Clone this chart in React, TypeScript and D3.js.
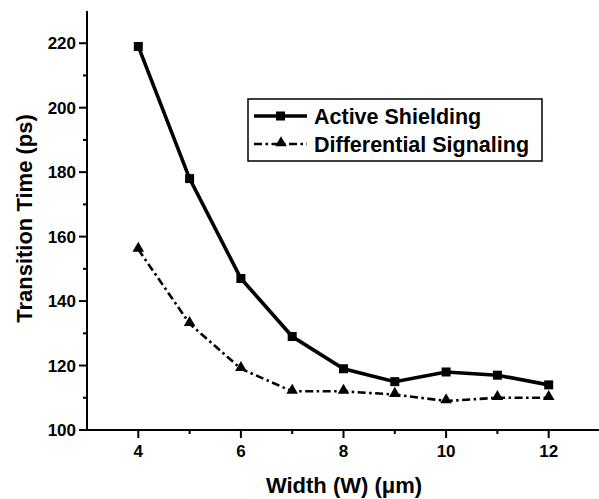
import React from "react";
import * as d3 from "d3";

const widths = [4, 5, 6, 7, 8, 9, 10, 11, 12];
const activeShielding = [219, 178, 147, 129, 119, 115, 118, 117, 114];
const differentialSignaling = [156, 133, 119, 112, 112, 111, 109, 110, 110];
const xMajorTicks = [4, 6, 8, 10, 12];
const xMinorTicks = [5, 7, 9, 11];
const yMajorTicks = [100, 120, 140, 160, 180, 200, 220];
const yMinorTicks = [110, 130, 150, 170, 190, 210];

const W = 599;
const H = 499;
const FONT = "'Liberation Sans', Arial, sans-serif";

export default function App() {
  const x = d3.scaleLinear().domain([3, 13]).range([87, 600]);
  const y = d3.scaleLinear().domain([100, 230]).range([430, 11]);
  const line = d3
    .line<number>()
    .x((_, i) => x(widths[i]))
    .y((d) => y(d));
  const tri = d3.symbol().type(d3.symbolTriangle).size(58)();

  return (
    <svg
      width={W}
      height={H}
      style={{ position: "absolute", left: 0, top: 0, background: "#fff" }}
      fontFamily={FONT}
    >
      <rect width={W} height={H} fill="#fff" />
      {/* axes */}
      <line x1={x(3)} x2={x(3)} y1={y(230)} y2={y(100)} stroke="#000" strokeWidth={2} />
      <line x1={x(3) - 1} x2={x(13)} y1={y(100)} y2={y(100)} stroke="#000" strokeWidth={2} />
      {yMajorTicks.map((t) => (
        <g key={"ym" + t}>
          <line x1={x(3) - 8} x2={x(3)} y1={y(t)} y2={y(t)} stroke="#000" strokeWidth={2} />
          <text
            x={x(3) - 11}
            y={y(t) + 6}
            textAnchor="end"
            fontSize={17}
            fontWeight="bold"
          >
            {t}
          </text>
        </g>
      ))}
      {yMinorTicks.map((t) => (
        <line key={"yn" + t} x1={x(3) - 4} x2={x(3)} y1={y(t)} y2={y(t)} stroke="#000" strokeWidth={2} />
      ))}
      {xMajorTicks.map((t) => (
        <g key={"xm" + t}>
          <line x1={x(t)} x2={x(t)} y1={y(100)} y2={y(100) + 8} stroke="#000" strokeWidth={2} />
          <text x={x(t)} y={y(100) + 27} textAnchor="middle" fontSize={17} fontWeight="bold">
            {t}
          </text>
        </g>
      ))}
      {xMinorTicks.map((t) => (
        <line key={"xn" + t} x1={x(t)} x2={x(t)} y1={y(100)} y2={y(100) + 4} stroke="#000" strokeWidth={2} />
      ))}
      {/* axis titles */}
      <text x={344} y={493} textAnchor="middle" fontSize={22} fontWeight="bold">
        Width (W) (μm)
      </text>
      <text
        transform={`translate(32,${(y(100) + y(230)) / 2 - 2}) rotate(-90)`}
        textAnchor="middle"
        fontSize={22}
        fontWeight="bold"
      >
        Transition Time (ps)
      </text>
      {/* series */}
      <path d={line(activeShielding) || ""} fill="none" stroke="#000" strokeWidth={3.6} />
      <path
        d={line(differentialSignaling) || ""}
        fill="none"
        stroke="#000"
        strokeWidth={2.6}
        strokeDasharray="8 3.5 2.5 3.5"
      />
      {activeShielding.map((v, i) => (
        <rect key={"s" + i} x={x(widths[i]) - 4.5} y={y(v) - 4.5} width={9} height={9} fill="#000" />
      ))}
      {differentialSignaling.map((v, i) => (
        <path key={"t" + i} d={tri || ""} transform={`translate(${x(widths[i])},${y(v) - 1})`} fill="#000" />
      ))}
      {/* legend */}
      <rect x={248} y={99} width={294} height={62} fill="#fff" stroke="#000" strokeWidth={1.5} />
      <line x1={254} x2={307} y1={116} y2={116} stroke="#000" strokeWidth={3.6} />
      <rect x={276} y={111.5} width={9} height={9} fill="#000" />
      <text x={314} y={123.5} fontSize={21.5} fontWeight="bold">
        Active Shielding
      </text>
      <line x1={254} x2={307} y1={144} y2={144} stroke="#000" strokeWidth={2.6} strokeDasharray="8 3.5 2.5 3.5" />
      <path d={tri || ""} transform={`translate(281,143)`} fill="#000" />
      <text x={314} y={151.5} fontSize={21.5} fontWeight="bold">
        Differential Signaling
      </text>
    </svg>
  );
}
